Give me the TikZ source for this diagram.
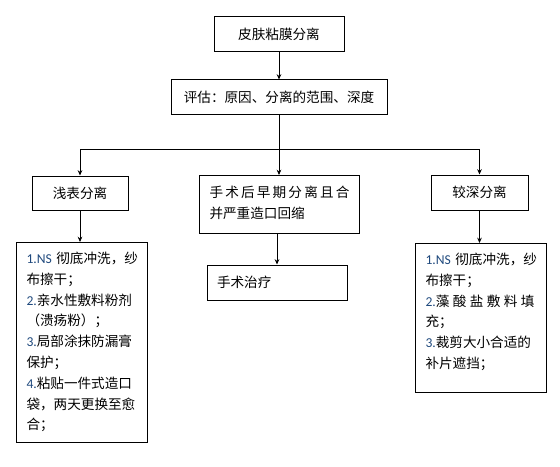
\documentclass[tikz,border=0pt]{standalone}
\usepackage{fontspec}
\setmainfont{Noto Sans CJK SC}
\newfontfamily\numfont{Carlito}
\usetikzlibrary{arrows.meta}
\definecolor{numblue}{RGB}{31,73,125}
\newcommand{\numb}[1]{{\numfont\color{numblue}#1}}

\begin{document}
\begin{tikzpicture}[x=0.75pt, y=-0.75pt,
    every node/.style={font=\fontsize{10.2pt}{15.6pt}\selectfont},
    box/.style={draw, line width=0.75pt, inner sep=0pt, minimum height=25.5pt},
    listbox/.style={draw, line width=0.75pt, anchor=north west, inner ysep=0pt, inner xsep=7.5pt, align=left},
    line/.style={line width=0.6pt},
    link/.style={line width=0.6pt, -{Stealth[length=4pt, width=3.5pt]}}]
    \useasboundingbox (0,0) rectangle (560,467);

    % 顶部：问题与评估
    \node[box, minimum width=97.5pt, minimum height=26.25pt] (skin) at (279,34.5) {皮肤粘膜分离};
    \node[box, minimum width=162pt] (eval) at (279,97) {评估：原因、分离的范围、深度};

    % 分支点
    \coordinate (hub) at (279,149);
    \coordinate (hubL) at (80,149);
    \coordinate (hubR) at (479.5,149);

    % 三种情况
    \node[box, minimum width=72pt] (shallow) at (80,193) {浅表分离};
    \node[listbox, text width=105pt, text height=16.5pt, text depth=27pt] (mid) at (199,175)
        {\makebox[105pt][s]{手\hfil 术\hfil 后\hfil 早\hfil 期\hfil 分\hfil 离\hfil 且\hfil 合}\\并严重造口回缩};
    \node[box, minimum width=72.75pt, minimum height=26.25pt] (deep) at (479.5,192.5) {较深分离};

    % 处理
    \node[listbox, text width=83.25pt, text height=15.75pt, text depth=134.25pt] (leftlist) at (16,242)
        {\numb{1.NS}~彻底冲洗，纱\\布擦干；\\\numb{2.}亲水性敷料粉剂\\（溃疡粉）；\\\numb{3.}局部涂抹防漏膏\\保护；\\\numb{4.}粘贴一件式造口\\袋，两天更换至愈\\合；};
    \node[box, minimum width=105pt, minimum height=26.25pt, inner xsep=7.5pt, text width=90pt, align=left] (surg) at (277,282.5) {手术治疗};
    \node[listbox, text width=83.25pt, text height=15.75pt, text depth=96pt] (rightlist) at (415,243)
        {\numb{1.NS}~彻底冲洗，纱\\布擦干；\\\makebox[81.75pt][s]{\numb{2.}藻\hfil 酸\hfil 盐\hfil 敷\hfil 料\hfil 填}\\充；\\\numb{3.}裁剪大小合适的\\补片遮挡；};

    % 连线
    \draw[link] (skin) -- (eval);
    \draw[line] (eval) -- (hub);
    \draw[line] (hubL) -- (hubR);
    \draw[link] (hubL) -- (shallow);
    \draw[link] (hub) -- (mid.north -| hub);
    \draw[link] (hubR) -- (deep);
    \draw[link] (shallow.south) -- (shallow.south |- leftlist.north);
    \draw[link] (mid.south -| surg) -- (surg);
    \draw[link] (deep.south) -- (deep.south |- rightlist.north);

\end{tikzpicture}
\end{document}
